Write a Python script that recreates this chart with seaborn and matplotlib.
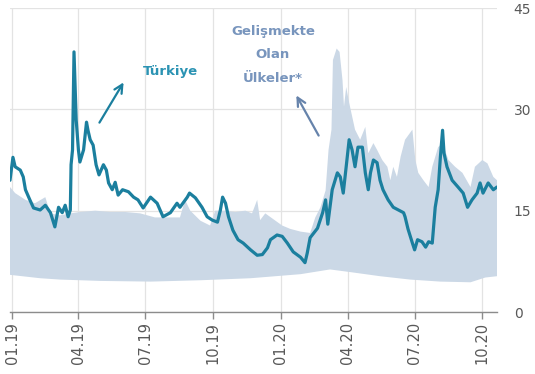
import matplotlib
matplotlib.use("Agg")
import matplotlib.pyplot as plt
import matplotlib.dates as mdates
import numpy as np
import pandas as pd
import seaborn as sns

# Türkiye volatility
turkey_dates = [
    "2018-12-29", "2019-01-02", "2019-01-05", "2019-01-12", "2019-01-16", "2019-01-19",
    "2019-01-25", "2019-01-30", "2019-02-08", "2019-02-15", "2019-02-22", "2019-02-28",
    "2019-03-05", "2019-03-10", "2019-03-14", "2019-03-18", "2019-03-21", "2019-03-22",
    "2019-03-24", "2019-03-26", "2019-03-29", "2019-04-01", "2019-04-03", "2019-04-08",
    "2019-04-12", "2019-04-14", "2019-04-17", "2019-04-21", "2019-04-25", "2019-04-29",
    "2019-05-05", "2019-05-09", "2019-05-12", "2019-05-17", "2019-05-21", "2019-05-25",
    "2019-05-31", "2019-06-08", "2019-06-15", "2019-06-21", "2019-06-28", "2019-07-08",
    "2019-07-17", "2019-07-25", "2019-08-04", "2019-08-13", "2019-08-17", "2019-08-27",
    "2019-08-30", "2019-09-07", "2019-09-16", "2019-09-23", "2019-09-30", "2019-10-07",
    "2019-10-11", "2019-10-14", "2019-10-18", "2019-10-22", "2019-10-28", "2019-11-04",
    "2019-11-11", "2019-11-21", "2019-11-30", "2019-12-07", "2019-12-14", "2019-12-18",
    "2019-12-27", "2020-01-03", "2020-01-10", "2020-01-18", "2020-01-28", "2020-02-03",
    "2020-02-06", "2020-02-10", "2020-02-20", "2020-02-27", "2020-03-02", "2020-03-05",
    "2020-03-11", "2020-03-18", "2020-03-22", "2020-03-26", "2020-03-31", "2020-04-03",
    "2020-04-07", "2020-04-11", "2020-04-15", "2020-04-21", "2020-04-25", "2020-04-29",
    "2020-05-02", "2020-05-06", "2020-05-11", "2020-05-15", "2020-05-19", "2020-05-26",
    "2020-06-02", "2020-06-09", "2020-06-16", "2020-06-18", "2020-06-22", "2020-06-28",
    "2020-07-01", "2020-07-05", "2020-07-11", "2020-07-16", "2020-07-20", "2020-07-25",
    "2020-07-29", "2020-08-02", "2020-08-05", "2020-08-08", "2020-08-10", "2020-08-14",
    "2020-08-21", "2020-08-29", "2020-09-05", "2020-09-11", "2020-09-17", "2020-09-24",
    "2020-09-28", "2020-10-02", "2020-10-09", "2020-10-16", "2020-10-21",
]
turkey_vol = [
    19.5, 22.9, 21.5, 21.0, 20.0, 18.1,
    16.6, 15.4, 15.1, 15.8, 14.7, 12.6,
    15.5, 14.7, 15.8, 14.1, 15.1, 21.8,
    24.0, 38.5, 28.4, 24.0, 22.2, 24.0,
    28.1, 26.9, 25.5, 24.7, 21.8, 20.3,
    21.8, 21.0, 19.1, 18.1, 19.2, 17.3,
    18.1, 17.8, 17.0, 16.6, 15.4, 17.0,
    16.1, 14.1, 14.7, 16.1, 15.5, 17.0,
    17.6, 16.9, 15.5, 14.1, 13.6, 13.3,
    15.1, 17.0, 16.1, 14.1, 12.1, 10.7,
    10.2, 9.2, 8.4, 8.5, 9.5, 10.7,
    11.4, 11.2, 10.2, 8.9, 8.1, 7.3,
    8.7, 11.0, 12.4, 14.7, 16.6, 13.0,
    18.1, 20.6, 20.0, 17.6, 22.5, 25.5,
    24.0, 21.5, 24.4, 24.4, 20.6, 18.1,
    20.6, 22.5, 22.1, 19.5, 18.1, 16.6,
    15.5, 15.1, 14.7, 14.1, 12.3, 10.2,
    9.2, 10.7, 10.4, 9.6, 10.4, 10.2,
    15.5, 18.1, 22.9, 26.9, 23.5, 21.5,
    19.5, 18.5, 17.6, 15.5, 16.6, 17.6,
    19.1, 17.6, 19.1, 18.1, 18.5,
]

# Emerging markets range: upper edge
em_high_dates = [
    "2018-12-29", "2019-01-05", "2019-01-19", "2019-02-01", "2019-02-15", "2019-02-22",
    "2019-03-07", "2019-03-21", "2019-04-03", "2019-04-24", "2019-05-14", "2019-06-04",
    "2019-06-24", "2019-07-14", "2019-08-04", "2019-08-17", "2019-08-24", "2019-08-31",
    "2019-09-14", "2019-09-27", "2019-10-04", "2019-10-18", "2019-10-31", "2019-11-14",
    "2019-11-23", "2019-11-30", "2019-12-04", "2019-12-11", "2019-12-25", "2020-01-03",
    "2020-01-14", "2020-01-28", "2020-02-10", "2020-02-17", "2020-02-24", "2020-03-02",
    "2020-03-06", "2020-03-10", "2020-03-12", "2020-03-17", "2020-03-21", "2020-03-25",
    "2020-03-27", "2020-03-30", "2020-04-03", "2020-04-07", "2020-04-11", "2020-04-18",
    "2020-04-25", "2020-04-29", "2020-05-06", "2020-05-11", "2020-05-18", "2020-05-25",
    "2020-05-29", "2020-06-02", "2020-06-07", "2020-06-12", "2020-06-18", "2020-06-28",
    "2020-07-02", "2020-07-06", "2020-07-13", "2020-07-20", "2020-07-25", "2020-08-02",
    "2020-08-08", "2020-08-16", "2020-08-25", "2020-09-04", "2020-09-15", "2020-09-21",
    "2020-10-01", "2020-10-08", "2020-10-16", "2020-10-21",
]
em_high = [
    18.5, 17.6, 16.6, 16.1, 17.0, 14.6,
    14.3, 14.6, 14.8, 15.0, 14.8, 14.8,
    14.6, 14.0, 14.0, 14.0, 16.6, 15.0,
    13.5, 12.8, 15.0, 15.0, 14.8, 15.0,
    14.6, 16.6, 13.6, 14.6, 13.5, 12.8,
    12.3, 11.9, 11.7, 14.0, 15.5, 18.0,
    24.0, 27.0, 37.3, 39.0, 38.5, 34.3,
    30.4, 33.3, 31.0, 29.0, 27.0, 25.5,
    27.4, 23.5, 25.0, 24.0, 22.5, 21.5,
    19.5, 21.5, 20.0, 23.0, 25.5, 27.0,
    22.5, 20.6, 19.5, 18.5, 21.5, 24.4,
    25.0, 22.5, 21.5, 20.6, 18.5, 21.5,
    22.5, 22.0, 20.0, 19.5,
]

# Emerging markets range: lower edge
em_low_dates = [
    "2018-12-29", "2019-02-08", "2019-03-07", "2019-05-01", "2019-07-08", "2019-09-14",
    "2019-11-21", "2020-01-28", "2020-03-08", "2020-04-05", "2020-05-15", "2020-06-25",
    "2020-08-05", "2020-09-15", "2020-10-05", "2020-10-21",
]
em_low = [
    5.5, 5.0, 4.8, 4.6, 4.5, 4.7,
    5.0, 5.6, 6.3, 5.9, 5.3, 4.8,
    4.5, 4.4, 5.1, 5.3,
]

line_color = "#1b7f9e"
band_color = "#cbd8e6"
turkey_text = "#2b93b3"
em_text = "#7895bd"
tick_color = "#595959"

sns.set_style("white")
plt.rcParams["font.family"] = ["DejaVu Sans"]

fig = plt.figure(figsize=(5.35, 3.74), dpi=100)
ax = fig.add_axes([10 / 535, 62 / 374, 487 / 535, 304 / 374])

hi_x = pd.to_datetime(em_high_dates).values
lo_x = pd.to_datetime(em_low_dates).values
band_x = np.concatenate([hi_x, lo_x[::-1]])
band_y = np.concatenate([em_high, em_low[::-1]])
ax.fill(band_x, band_y, color=band_color, lw=0, zorder=1)

df = pd.DataFrame({"date": pd.to_datetime(turkey_dates), "vol": turkey_vol})
sns.lineplot(data=df, x="date", y="vol", ax=ax, color=line_color, linewidth=2.3, zorder=3)

ax.set_xlim(pd.Timestamp("2018-12-29"), pd.Timestamp("2020-10-21"))
ax.set_ylim(0, 45)
ax.set_xlabel("")
ax.set_ylabel("")

ax.xaxis.set_major_locator(mdates.MonthLocator(bymonth=[1, 4, 7, 10]))
ax.xaxis.set_major_formatter(mdates.DateFormatter("%m.%y"))
ax.yaxis.tick_right()
ax.set_yticks([0, 15, 30, 45])

ax.grid(True, color="#e3e3e3", linewidth=0.9, zorder=0)
ax.set_axisbelow(True)
for side in ["top", "left", "right"]:
    ax.spines[side].set_visible(False)
ax.spines["bottom"].set_color("#8c8c8c")
ax.spines["bottom"].set_linewidth(1.0)

ax.tick_params(axis="x", bottom=True, length=5, width=1, color="#8c8c8c",
               labelrotation=90, labelsize=10.5, labelcolor=tick_color, pad=2)
ax.tick_params(axis="y", right=False, length=0, labelsize=10,
               labelcolor=tick_color, pad=12)

fig.text(170 / 535, 1 - 72 / 374, "Türkiye", color=turkey_text, fontsize=9.5,
         fontweight="bold", ha="center", va="center")
for label, ypix in [("Gelişmekte", 32), ("Olan", 55), ("Ülkeler*", 78)]:
    fig.text(273 / 535, 1 - ypix / 374, label, color=em_text, fontsize=9.5,
             fontweight="bold", ha="center", va="center")

ax.annotate("", xy=(125, 374 - 80), xycoords="figure pixels",
            xytext=(98, 374 - 125), textcoords="figure pixels",
            arrowprops=dict(arrowstyle="->", color=line_color, lw=1.6, mutation_scale=15))
ax.annotate("", xy=(295, 374 - 93), xycoords="figure pixels",
            xytext=(320, 374 - 138), textcoords="figure pixels",
            arrowprops=dict(arrowstyle="->", color="#6683ab", lw=1.6, mutation_scale=15))

fig.savefig("out.png", dpi=100)
